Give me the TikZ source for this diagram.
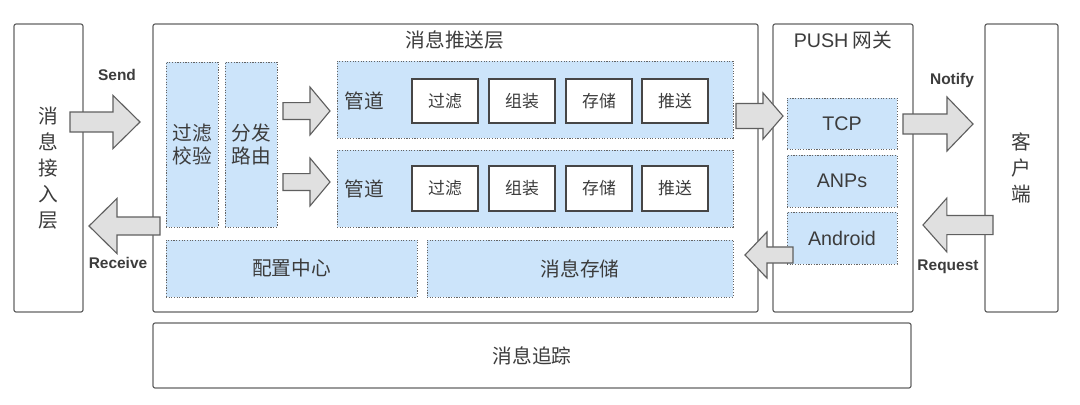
\documentclass[tikz,border=0pt]{standalone}
\usepackage{fontspec}
\setmainfont{Noto Sans CJK SC}
\newfontfamily\latin{Liberation Sans}
\usetikzlibrary{fit,calc}
\definecolor{boxline}{RGB}{100,100,100}
\definecolor{stageline}{RGB}{70,70,70}
\definecolor{txt}{RGB}{60,60,60}
\definecolor{paleblue}{RGB}{204,228,250}
\definecolor{arrowfill}{RGB}{224,224,224}
\definecolor{arrowline}{RGB}{95,95,95}
\newcommand{\fatarrow}[5]{%
  \draw[fat arrow] let \p1=(#1), \p2=(#2), \n1={sign(\x2-\x1)} in
    ({\x1},{\y1+#3}) -- ({\x2-(\n1)*#5},{\y1+#3}) -- ({\x2-(\n1)*#5},{\y1+#4}) -- ({\x2},{\y1})
    -- ({\x2-(\n1)*#5},{\y1-#4}) -- ({\x2-(\n1)*#5},{\y1-#3}) -- ({\x1},{\y1-#3}) -- cycle;}
\begin{document}
\begin{tikzpicture}[x=0.025cm,y=-0.025cm,
    every node/.style={text=txt},
    every label/.style={text=txt,inner sep=0pt},
    outer/.style={draw=boxline,line width=0.85pt,rounded corners=1.5pt,inner sep=0pt,fill=white},
    zone/.style={draw=boxline,line width=0.7pt,dash pattern=on 0.8pt off 1.1pt,fill=paleblue,inner sep=0pt},
    stage/.style={draw=stageline,line width=1pt,fill=white,inner sep=0pt},
    big/.style={font=\fontsize{14}{18.5}\selectfont,align=center},
    pair/.style={font=\fontsize{14}{16.5}\selectfont,align=center},
    small/.style={font=\fontsize{12}{14}\selectfont},
    latinbig/.style={font=\latin\fontsize{14}{16}\selectfont},
    tag/.style={font=\latin\bfseries\fontsize{11}{13}\selectfont},
    fat arrow/.style={draw=arrowline,line width=0.8pt,fill=arrowfill,line join=miter}]
    \useasboundingbox (0,0) rectangle (1080,404);
    \node (access) [outer,fit={(14,24) (83,312)},label={[big]center:消\\息\\接\\入\\层}] {};
    \node (pushlayer) [outer,fit={(153,24) (758,312)}] {};
    \node (gateway) [outer,fit={(773,24) (913,312)}] {};
    \node (client) [outer,fit={(985,24) (1058,312)},label={[big]center:客\\户\\端}] {};
    \node (trace) [outer,fit={(153,323) (911,388)},label={[big]center:消息追踪}] {};
    \node (pushtitle) at (455,40) [big] {消息推送层};
    \node (gwtitle) at (843,40) [big] {{\latin PUSH} 网关};
    \node (check) [zone,fit={(166,62) (218,227)},label={[pair]center:过滤\\校验}] {};
    \node (route) [zone,fit={(225,62) (277,227)},label={[pair]center:分发\\路由}] {};
    \node (pipeA) [zone,fit={(337,61) (733,138)}] {};
    \node (pipeB) [zone,fit={(337,150) (733,227)}] {};
    \node (config) [zone,fit={(166,240) (417,297)},label={[big]center:配置中心}] {};
    \node (store) [zone,fit={(427,240) (733,297)},label={[big]center:消息存储}] {};
    \node (pipeAlabel) at (364,101) [big] {管道};
    \node (pipeBlabel) at (364,189) [big] {管道};
    \node (aFilter) [stage,fit={(412,79) (478,123)},label={[small]center:过滤}] {};
    \node (aBuild) [stage,fit={(489,79) (555,123)},label={[small]center:组装}] {};
    \node (aSave) [stage,fit={(566,79) (632,123)},label={[small]center:存储}] {};
    \node (aSend) [stage,fit={(642,79) (708,123)},label={[small]center:推送}] {};
    \node (bFilter) [stage,fit={(412,166) (478,211)},label={[small]center:过滤}] {};
    \node (bBuild) [stage,fit={(489,166) (555,211)},label={[small]center:组装}] {};
    \node (bSave) [stage,fit={(566,166) (632,211)},label={[small]center:存储}] {};
    \node (bSend) [stage,fit={(642,166) (708,211)},label={[small]center:推送}] {};
    \node (tcp) [zone,fit={(787,98) (897,149)},label={[latinbig]center:TCP}] {};
    \node (apns) [zone,fit={(787,155) (897,207)},label={[latinbig]center:ANPs}] {};
    \node (android) [zone,fit={(787,212) (897,264)},label={[latinbig]center:Android}] {};
    \coordinate (sendtail) at (70,122);
    \coordinate (sendtip) at (140,122);
    \coordinate (recvtail) at (160,226);
    \coordinate (recvtip) at (89,226);
    \coordinate (fanAtail) at (283,111);
    \coordinate (fanAtip) at (330,111);
    \coordinate (fanBtail) at (283,182);
    \coordinate (fanBtip) at (330,182);
    \coordinate (outtail) at (736,116);
    \coordinate (outtip) at (783,116);
    \coordinate (notifytail) at (903,124);
    \coordinate (notifytip) at (973,124);
    \coordinate (reqtail) at (993,225);
    \coordinate (reqtip) at (923,225);
    \coordinate (backtail) at (793,255);
    \coordinate (backtip) at (745,255);
    \fatarrow{sendtail}{sendtip}{7.1pt}{18.9pt}{19.2pt}
    \fatarrow{recvtail}{recvtip}{6.4pt}{19.6pt}{19.9pt}
    \fatarrow{fanAtail}{fanAtip}{6pt}{17pt}{14.2pt}
    \fatarrow{fanBtail}{fanBtip}{6pt}{17pt}{14.2pt}
    \fatarrow{outtail}{outtip}{8.9pt}{16.4pt}{14.2pt}
    \fatarrow{notifytail}{notifytip}{7.1pt}{19.2pt}{18.5pt}
    \fatarrow{reqtail}{reqtip}{6.8pt}{19.2pt}{17pt}
    \fatarrow{backtail}{backtip}{5.7pt}{16.4pt}{15.6pt}
    \node (sendtag) at (117,75) [tag] {Send};
    \node (recvtag) at (118,263) [tag] {Receive};
    \node (notifytag) at (952,80) [tag] {Notify};
    \node (reqtag) at (948,267) [tag] {Request};
\end{tikzpicture}
\end{document}
